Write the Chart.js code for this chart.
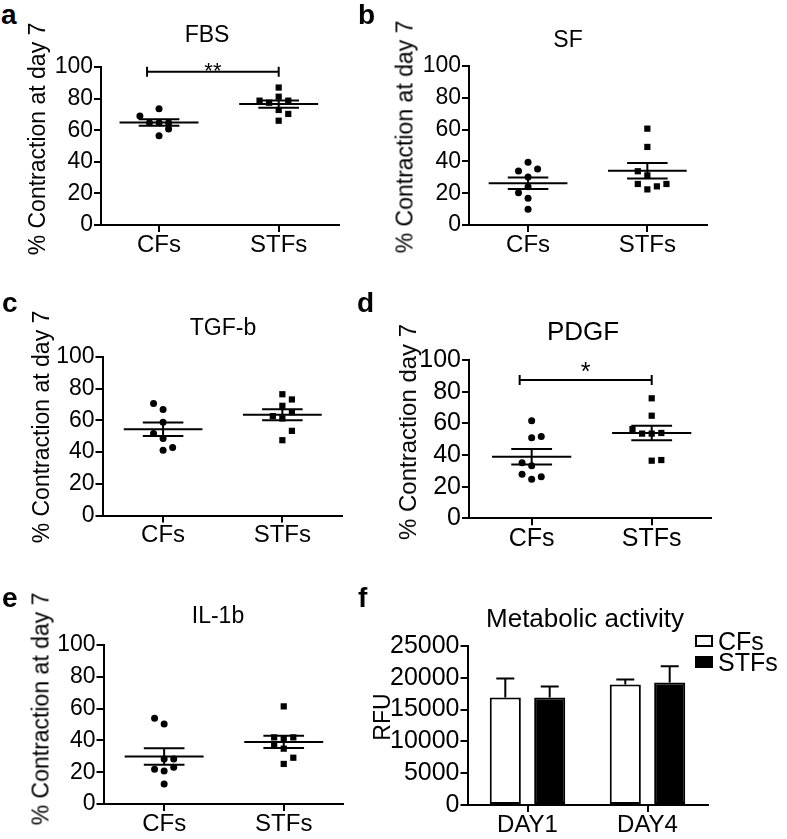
<!DOCTYPE html>
<html>
<head>
<meta charset="utf-8">
<title>Contraction and metabolic activity</title>
<script src="https://cdn.jsdelivr.net/npm/chart.js@4.4.1/dist/chart.umd.min.js"></script>
<style>
  html, body { margin: 0; background: #fff; }
  #fig { position: relative; width: 787px; height: 839px; overflow: hidden; font-family: "Liberation Sans", Arial, Helvetica, sans-serif; color: #000; }
  #fig canvas { position: absolute; }
  .txt { position: absolute; line-height: 1; white-space: nowrap; }
  .letter { font-weight: bold; font-size: 28px; }
  .title { transform: translateX(-50%); }
  .ytitle { transform: translate(-50%, -50%) rotate(-90deg); }
  .legend-row { position: absolute; height: 25px; width: 92px; }
  .legend-box { position: absolute; left: 0; top: 6px; width: 18px; height: 12px; box-sizing: border-box; border: 2px solid #000; }
  .legend-text { position: absolute; left: 23px; top: 0; font-size: 25px; line-height: 1; }
</style>
</head>
<body>
<div id="fig"></div>
<script>
// shared categories / ticks
const groups = ['CFs', 'STFs'];
const contractionTicks = [0, 20, 40, 60, 80, 100];
const days = ['DAY1', 'DAY4'];
const rfuTicks = [0, 5000, 10000, 15000, 20000, 25000];

// a: FBS  (values = % contraction, col = dot column inside the group)
const fbsCFs = [69, 73.6, 64.7, 64.7, 64.7, 60.7, 56.5];
const fbsCFsCol = [-2, 0, -1, 0, 1, 1, 0];
const fbsSTFs = [87, 78.7, 77.4, 81.2, 78.7, 72.8, 70.3, 66];
const fbsSTFsCol = [0, -2, -1, 0, 1, 0, 1, 0];
const fbsSigSpan = [0.9, 2];
const fbsSigLevel = 97;

// b: SF
const sfCFs = [39.4, 34, 35.2, 30.2, 24.1, 20.3, 16.8, 9.9];
const sfCFsCol = [0, -1, 1, 0, 0, -1, 0, 0];
const sfSTFs = [60.6, 49.1, 33.8, 31.2, 25.8, 22.4, 24.3, 25.8];
const sfSTFsCol = [0, 0, -1, 0, -1, 0, 1, 2];

// c: TGF-b
const tgfCFs = [70.6, 66.9, 58.9, 51.8, 48.6, 41.2, 42.9];
const tgfCFsCol = [-1, 0, 0, -1, 0, 0, 1];
const tgfSTFs = [76.5, 73.2, 69.2, 62.7, 61.2, 65.2, 53.4, 47.5];
const tgfSTFsCol = [0, 1, 0, -1, 0, 1, 1, 0];

// d: PDGF
const pdgfCFs = [61.7, 50.9, 51.6, 35.1, 33.2, 27.8, 26.3, 24.6];
const pdgfCFsCol = [0, 0, 1, -1, 0, -1, 1, 0];
const pdgfSTFs = [75.8, 64.8, 56.4, 53.5, 53.5, 53.9, 36.4, 36.8];
const pdgfSTFsCol = [0, 0, -2, -1, 0, 1, 0, 1];
const pdgfSigSpan = [0.9, 2];
const pdgfSigLevel = 87.4;

// e: IL-1b
const ilCFs = [53.9, 50.3, 28.3, 28.3, 23.1, 21.8, 20.8, 12.6];
const ilCFsCol = [-1, 0, 0, 1, 1, -1, 0, 0];
const ilSTFs = [61.4, 41.9, 41.1, 41.9, 37.1, 34.8, 29.1, 25.2];
const ilSTFsCol = [0, -1, 0, 1, -1, 0, 1, 0];

// f: metabolic activity (mean RFU and upper error)
const cfsRfu = [16900, 18940];
const cfsRfuErr = [2980, 790];
const stfsRfu = [16900, 19260];
const stfsRfuErr = [1730, 2550];

const FONT = '"Liberation Sans", Arial, Helvetica, sans-serif';
const COL_STEP = 0.08;
Chart.defaults.font.family = FONT;
Chart.defaults.color = '#000';

const fig = document.getElementById('fig');

function addCanvas(box) {
  const c = document.createElement('canvas');
  c.width = box.width;
  c.height = box.height;
  c.style.left = box.left + 'px';
  c.style.top = box.top + 'px';
  c.style.width = box.width + 'px';
  c.style.height = box.height + 'px';
  fig.appendChild(c);
  return c;
}

function addText(text, cls, left, top, size) {
  const d = document.createElement('div');
  d.className = 'txt ' + cls;
  d.textContent = text;
  d.style.left = left + 'px';
  d.style.top = top + 'px';
  if (size) d.style.fontSize = size + 'px';
  fig.appendChild(d);
  return d;
}

// html labels: baseline given, line-height 1 puts the baseline at 0.8465em
function addLetter(ch, left, base) { addText(ch, 'letter', left, base - 0.8465 * 28); }
function addTitle(t, cx, base, size) { addText(t, 'title', cx, base - 0.8465 * size, size); }
function addYTitle(t, cx, cy, size) { addText(t, 'ytitle', cx, cy, size); }

function meanSem(vals, center) {
  const n = vals.length;
  const m = vals.reduce((s, v) => s + v, 0) / n;
  const sd = Math.sqrt(vals.reduce((s, v) => s + (v - m) ** 2, 0) / (n - 1));
  const se = sd / Math.sqrt(n);
  const gap = { x: center, y: null };
  return [
    { x: center - 0.33, y: m }, { x: center + 0.33, y: m }, gap,
    { x: center - 0.17, y: m + se }, { x: center + 0.17, y: m + se }, gap,
    { x: center - 0.17, y: m - se }, { x: center + 0.17, y: m - se }, gap,
    { x: center, y: m - se }, { x: center, y: m + se },
  ];
}

function bracket(span, level) {
  const cap = 3.2;
  const gap = { x: span[0], y: null };
  return [
    { x: span[0], y: level - cap }, { x: span[0], y: level + cap }, gap,
    { x: span[0], y: level }, { x: span[1], y: level }, gap,
    { x: span[1], y: level - cap }, { x: span[1], y: level + cap },
  ];
}

const sigStars = {
  id: 'sigStars',
  afterDatasetsDraw(chart, args, opts) {
    if (!opts || !opts.text) return;
    const { ctx } = chart;
    const x = chart.scales.x, y = chart.scales.y;
    ctx.save();
    ctx.font = `${opts.size}px ${FONT}`;
    ctx.fillStyle = '#000';
    ctx.textAlign = 'center';
    ctx.textBaseline = 'alphabetic';
    const px = (x.getPixelForValue(opts.from) + x.getPixelForValue(opts.to)) / 2;
    ctx.fillText(opts.text, px, y.getPixelForValue(opts.level) + opts.dy);
    ctx.restore();
  },
};

function axisStyle(tickFont, pad) {
  return {
    ticks: { font: { size: tickFont, lineHeight: 1 }, padding: pad, autoSkip: false, maxRotation: 0, color: '#000' },
    grid: { drawOnChartArea: false, drawTicks: true, tickLength: 7, color: '#000', lineWidth: 2 },
    border: { display: true, color: '#000', width: 2 },
  };
}

function contractionChart(p) {
  const canvas = addCanvas(p.box);
  const lineDs = (data) => ({
    data, showLine: true, pointRadius: 0, borderColor: '#000', borderWidth: 2,
    spanGaps: false, clip: false, backgroundColor: '#000',
  });
  const datasets = [
    {
      label: groups[0],
      data: p.cfs.map((v, i) => ({ x: 1 + p.cfsCol[i] * COL_STEP, y: v })),
      pointStyle: 'circle', pointRadius: 3.5, backgroundColor: '#000', borderWidth: 0, clip: false,
    },
    {
      label: groups[1],
      data: p.stfs.map((v, i) => ({ x: 2 + p.stfsCol[i] * COL_STEP, y: v })),
      pointStyle: 'rect', pointRadius: 4.4, backgroundColor: '#000', borderWidth: 0, clip: false,
    },
    lineDs(meanSem(p.cfs, 1)),
    lineDs(meanSem(p.stfs, 2)),
  ];
  if (p.sig) datasets.push(lineDs(bracket(p.sig.span, p.sig.level)));

  const xAxis = axisStyle(p.catFont, 1);
  const yAxis = axisStyle(p.tickFont, 1);
  new Chart(canvas, {
    type: 'scatter',
    data: { datasets },
    options: {
      responsive: false,
      animation: false,
      events: [],
      layout: { padding: { left: 0, top: p.area.top - p.box.top, right: p.box.left + p.box.width - p.area.right, bottom: 0 } },
      plugins: {
        legend: { display: false },
        tooltip: { enabled: false },
        sigStars: p.sig ? { text: p.sig.text, from: p.sig.span[0], to: p.sig.span[1], level: p.sig.level, dy: p.sig.dy, size: p.sig.size } : {},
      },
      scales: {
        x: {
          type: 'linear', min: p.xRange[0], max: p.xRange[1],
          afterBuildTicks: (s) => { s.ticks = groups.map((g, i) => ({ value: i + 1 })); },
          afterFit: (s) => { s.height = p.box.top + p.box.height - p.area.bottom; },
          ...xAxis,
          ticks: { ...xAxis.ticks, callback: (v) => groups[v - 1] },
        },
        y: {
          min: 0, max: 100,
          afterBuildTicks: (s) => { s.ticks = contractionTicks.map((v) => ({ value: v })); },
          afterFit: (s) => { s.width = p.area.left - p.box.left; },
          ...yAxis,
          ticks: { ...yAxis.ticks, callback: (v) => String(v) },
        },
      },
    },
    plugins: [sigStars],
  });

  addLetter(p.letter[0], p.letter[1], p.letter[2]);
  addTitle(p.title[0], p.title[1], p.title[2], p.title[3]);
  addYTitle(p.ytitle[0], p.ytitle[1], p.ytitle[2], p.ytitle[3]);
}

const YLAB = '% Contraction at day 7';

contractionChart({
  cfs: fbsCFs, cfsCol: fbsCFsCol, stfs: fbsSTFs, stfsCol: fbsSTFsCol,
  sig: { span: fbsSigSpan, level: fbsSigLevel, text: '**', dy: 6, size: 22 },
  box: { left: 20, top: 0, width: 340, height: 285 },
  area: { left: 101, top: 67, right: 339, bottom: 225 },
  xRange: [0.515, 2.504], tickFont: 23, catFont: 24,
  letter: ['a', 1, 25], title: ['FBS', 207, 42, 23], ytitle: [YLAB, 37, 139, 23],
});

contractionChart({
  cfs: sfCFs, cfsCol: sfCFsCol, stfs: sfSTFs, stfsCol: sfSTFsCol,
  box: { left: 385, top: 0, width: 345, height: 285 },
  area: { left: 469, top: 66, right: 707, bottom: 225 },
  xRange: [0.505, 2.5], tickFont: 23, catFont: 24,
  letter: ['b', 358, 25], title: ['SF', 568, 47, 23], ytitle: [YLAB, 405, 137, 23],
});

contractionChart({
  cfs: tgfCFs, cfsCol: tgfCFsCol, stfs: tgfSTFs, stfsCol: tgfSTFsCol,
  box: { left: 20, top: 290, width: 340, height: 268 },
  area: { left: 102.5, top: 357, right: 342, bottom: 515.5 },
  xRange: [0.492, 2.5], tickFont: 23, catFont: 24,
  letter: ['c', 2, 313], title: ['TGF-b', 223, 335, 23], ytitle: [YLAB, 41, 427, 23],
});

contractionChart({
  cfs: pdgfCFs, cfsCol: pdgfCFsCol, stfs: pdgfSTFs, stfsCol: pdgfSTFsCol,
  sig: { span: pdgfSigSpan, level: pdgfSigLevel, text: '*', dy: 0, size: 25 },
  box: { left: 385, top: 290, width: 345, height: 268 },
  area: { left: 469, top: 360, right: 711, bottom: 518.3 },
  xRange: [0.478, 2.494], tickFont: 25, catFont: 25,
  letter: ['d', 357, 313], title: ['PDGF', 583, 340, 26], ytitle: ['% Contraction day 7', 408, 432, 24],
});

contractionChart({
  cfs: ilCFs, cfsCol: ilCFsCol, stfs: ilSTFs, stfsCol: ilSTFsCol,
  box: { left: 20, top: 560, width: 340, height: 279 },
  area: { left: 103.5, top: 645, right: 342.7, bottom: 804 },
  xRange: [0.493, 2.493], tickFont: 23, catFont: 24,
  letter: ['e', 2, 608], title: ['IL-1b', 218, 623, 23], ytitle: [YLAB, 41, 709, 23],
});

// f: bars with upper error bars
function errorBars(errs) {
  return {
    id: 'errorBars',
    afterDatasetsDraw(chart) {
      const { ctx } = chart;
      const yScale = chart.scales.y;
      ctx.save();
      ctx.strokeStyle = '#000';
      ctx.lineWidth = 2;
      chart.data.datasets.forEach((ds, i) => {
        chart.getDatasetMeta(i).data.forEach((bar, j) => {
          const top = yScale.getPixelForValue(ds.data[j] + errs[i][j]);
          ctx.beginPath();
          ctx.moveTo(bar.x, bar.y);
          ctx.lineTo(bar.x, top);
          ctx.moveTo(bar.x - 9, top);
          ctx.lineTo(bar.x + 9, top);
          ctx.stroke();
        });
      });
      ctx.restore();
    },
  };
}

const fBox = { left: 360, top: 560, width: 427, height: 279 };
const fArea = { left: 467.5, top: 646, right: 707.5, bottom: 805 };
const fDatasets = [
  { label: groups[0], data: cfsRfu, backgroundColor: '#fff', borderColor: '#000', borderWidth: 2, borderSkipped: false },
  { label: groups[1], data: stfsRfu, backgroundColor: '#000', borderColor: '#000', borderWidth: 2, borderSkipped: false },
];
const fx = axisStyle(24, 1);
const fy = axisStyle(25, 1);
new Chart(addCanvas(fBox), {
  type: 'bar',
  data: { labels: days, datasets: fDatasets },
  options: {
    responsive: false,
    animation: false,
    events: [],
    categoryPercentage: 0.74,
    barPercentage: 0.7,
    layout: { padding: { left: 0, top: fArea.top - fBox.top, right: fBox.left + fBox.width - fArea.right, bottom: 0 } },
    plugins: { legend: { display: false }, tooltip: { enabled: false } },
    scales: {
      x: {
        ...fx,
        grid: { ...fx.grid, offset: false },
        afterFit: (s) => { s.height = fBox.top + fBox.height - fArea.bottom; },
      },
      y: {
        min: 0, max: 25000,
        afterBuildTicks: (s) => { s.ticks = rfuTicks.map((v) => ({ value: v })); },
        afterFit: (s) => { s.width = fArea.left - fBox.left; },
        ...fy,
        ticks: { ...fy.ticks, callback: (v) => String(v) },
      },
    },
  },
  plugins: [errorBars([cfsRfuErr, stfsRfuErr])],
});
addLetter('f', 358, 608);
addTitle('Metabolic activity', 585, 627, 26);
addYTitle('RFU', 382, 717, 23);

// legend built from the bar datasets
fDatasets.forEach((ds, i) => {
  const row = document.createElement('div');
  row.className = 'legend-row';
  row.style.left = '695px';
  row.style.top = (629 + i * 20.5) + 'px';
  const box = document.createElement('span');
  box.className = 'legend-box';
  box.style.background = ds.backgroundColor;
  box.style.borderColor = ds.borderColor;
  const txt = document.createElement('span');
  txt.className = 'legend-text';
  txt.textContent = ds.label;
  row.appendChild(box);
  row.appendChild(txt);
  fig.appendChild(row);
});
</script>
</body>
</html>
